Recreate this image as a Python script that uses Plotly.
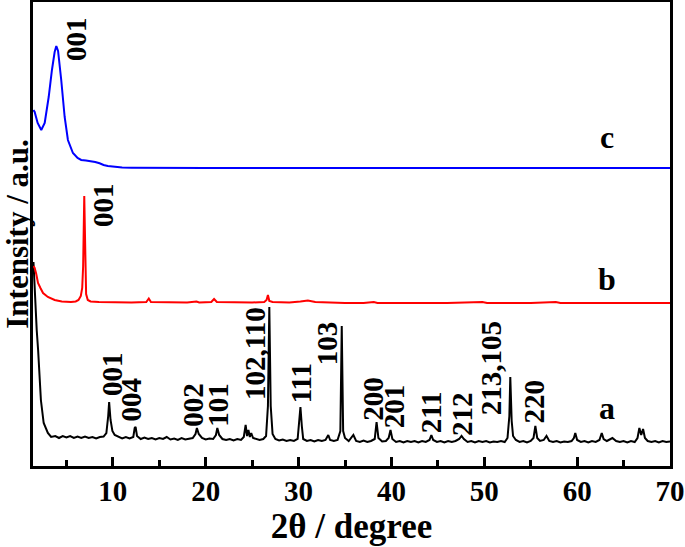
import plotly.graph_objects as go

# sample a (black)
two_theta_a = [1.45, 1.6, 1.8, 1.95, 2.1, 2.25, 2.55, 3.0, 3.35, 3.8, 4.2, 4.6, 5.0, 5.4, 5.8, 6.2, 6.6, 7.0, 7.4, 7.8,
               8.2, 8.6, 9.0, 9.3, 9.5, 9.6, 9.75, 9.95, 10.2, 10.6, 11.0, 11.4, 11.8, 12.2, 12.35, 12.45, 12.6, 13.0,
               13.4, 13.8, 14.2, 14.6, 15.0, 15.4, 15.8, 16.2, 16.6, 17.0, 17.4, 17.8, 18.2, 18.6, 18.9, 19.05, 19.25,
               19.6, 20.0, 20.4, 20.8, 21.1, 21.25, 21.45, 21.8, 22.2, 22.6, 23.0, 23.4, 23.8, 24.1, 24.3, 24.45, 24.6,
               24.75, 24.9, 25.1, 25.4, 25.8, 26.2, 26.5, 26.7, 26.85, 27.0, 27.2, 27.5, 27.9, 28.3, 28.7, 29.1, 29.5,
               29.9, 30.05, 30.2, 30.35, 30.5, 30.9, 31.3, 31.7, 32.1, 32.5, 32.9, 33.2, 33.4, 33.8, 34.2, 34.5, 34.65,
               34.8, 35.0, 35.4, 35.9, 36.2, 36.6, 37.0, 37.4, 37.8, 38.2, 38.4, 38.6, 39.0, 39.4, 39.7, 39.9, 40.1,
               40.5, 40.9, 41.3, 41.7, 42.1, 42.5, 42.9, 43.3, 43.7, 44.1, 44.3, 44.5, 44.9, 45.3, 45.7, 46.1, 46.5,
               46.9, 47.3, 47.55, 47.8, 48.2, 48.6, 49.0, 49.4, 49.8, 50.2, 50.6, 51.0, 51.4, 51.8, 52.2, 52.5, 52.7,
               52.8, 52.95, 53.1, 53.4, 53.8, 54.2, 54.6, 55.0, 55.3, 55.5, 55.7, 56.0, 56.4, 56.7, 57.0, 57.4, 57.8,
               58.2, 58.6, 59.0, 59.4, 59.65, 59.8, 60.0, 60.4, 60.8, 61.2, 61.6, 62.0, 62.4, 62.65, 62.85, 63.2, 63.8,
               64.2, 64.6, 65.0, 65.4, 65.8, 66.2, 66.5, 66.7, 66.9, 67.1, 67.3, 67.6, 68.0, 68.4, 68.8, 69.2, 69.6, 70.0]
intensity_a = [204, 170, 136, 116, 95, 66, 43, 33, 29, 30, 28, 30, 28.5, 30, 28, 29.5, 28, 29.5, 28, 29,
               27.5, 29, 29.5, 33, 50, 64, 46, 35, 31, 29, 27.5, 29, 27.5, 29, 38, 39, 30, 27,
               28.5, 27, 28, 26.5, 28, 27, 29, 26.5, 27.5, 26, 28, 26.5, 27, 28, 32, 38, 32,
               28, 26.5, 27.5, 27, 31, 38, 31, 27, 26, 27, 25.5, 27, 26, 29, 41, 30, 36,
               29, 33, 28, 27, 26, 27, 30, 60, 159, 60, 32, 27, 25.5, 26.5, 25, 26, 25,
               27, 40, 59, 40, 27, 25, 26, 24.5, 26, 25, 26, 31, 26, 25, 26, 35, 140,
               35, 28, 25, 31, 25, 24, 25.5, 24, 25, 27, 44, 28, 24.5, 25, 28, 36, 27,
               24, 25, 23.5, 25, 24, 25, 23.5, 25, 24, 26, 31, 26, 24, 25, 23.5, 25, 24,
               25, 27, 30, 27, 24, 25, 23.5, 25, 24, 25, 23.5, 24.5, 24, 25, 24, 28, 50,
               89, 45, 30, 26, 24, 25, 23.5, 25, 28, 40, 28, 25, 26, 30, 25, 24, 25,
               23.5, 24.5, 24, 25, 28, 33, 26, 24, 25, 23.5, 25, 24, 26, 33, 27, 25, 28,
               25, 24, 25, 23.5, 25, 24, 28, 38, 31, 37, 28, 25, 24, 25, 23.5, 25, 24, 24.5]

# sample b (red)
two_theta_b = [1.45, 1.58, 1.75, 1.94, 2.2, 2.48, 3.0, 3.73, 4.5, 5.49, 6.0, 6.3, 6.55, 6.7, 6.8, 6.88, 6.92, 6.98,
               7.05, 7.12, 7.3, 7.6, 8.5, 10.0, 12.0, 13.6, 13.87, 14.1, 16.0, 18.0, 19.0, 19.3, 20.6, 20.9, 21.2,
               23.0, 25.0, 26.3, 26.55, 26.7, 26.85, 27.2, 29.0, 30.2, 31.0, 31.8, 33.0, 35.0, 37.0, 38.1, 38.5,
               41.0, 44.0, 46.0, 49.8, 50.3, 53.0, 55.0, 57.7, 58.2, 60.0, 63.0, 66.0, 70.0]
intensity_b = [200, 198, 192, 183, 178, 173, 169, 166, 164.5, 164, 164.5, 166, 170, 178, 200, 250, 270, 240,
               190, 172, 166, 164.5, 164, 163.5, 163.5, 164, 167.5, 164, 163.5, 163.5, 164.5, 163.5, 164, 167, 164,
               163.5, 163.5, 164, 166, 171, 165, 164, 163.5, 164.5, 165.5, 164, 163.5, 163, 163, 164, 163,
               163, 163, 163, 164, 163, 163, 163, 164, 163, 163, 163, 163, 163]

# sample c (blue)
two_theta_c = [1.45, 1.58, 1.9, 2.29, 2.66, 3.09, 3.44, 3.73, 3.91, 4.1, 4.44, 4.81, 5.16, 5.7, 6.2, 6.59, 7.1,
               7.67, 8.1, 8.57, 9.0, 9.46, 10.19, 11.0, 12.0, 15.0, 20.0, 30.0, 40.0, 50.0, 60.0, 70.0]
intensity_c = [356, 354, 343, 336, 343, 369, 396, 414, 420, 415, 386, 349, 326, 313, 308, 306, 305.5,
               305, 304, 302.7, 301, 300, 299.3, 298.5, 298.3, 298, 298, 298, 298, 298, 298, 298]

peak_labels_a = ["001", "004", "002", "101", "102,110", "111", "103", "200", "201", "211", "212", "213,105", "220"]

fig = go.Figure()
fig.add_trace(go.Scatter(x=two_theta_a, y=intensity_a, mode="lines", line=dict(color="black", width=2)))
fig.add_trace(go.Scatter(x=two_theta_b, y=intensity_b, mode="lines", line=dict(color="#ff0000", width=2)))
fig.add_trace(go.Scatter(x=two_theta_c, y=intensity_c, mode="lines", line=dict(color="#0000ff", width=2)))

serif = "Liberation Serif, Times New Roman, serif"
lab_font = dict(family=serif, size=29, color="black", weight="bold")

# label positions (x in degrees, y in intensity units)
pos_a = [(9.9, 92), (12.0, 67), (18.6, 61), (21.3, 61), (25.3, 113), (30.3, 83), (33.1, 123),
         (38.0, 67), (40.3, 60), (44.3, 54), (47.6, 52), (50.75, 98), (55.4, 65)]
for lab, (px, py) in zip(peak_labels_a, pos_a):
    fig.add_annotation(x=px, y=py, text=lab, textangle=-90, showarrow=False, font=lab_font)
fig.add_annotation(x=8.93, y=261, text="001", textangle=-90, showarrow=False, font=lab_font)
fig.add_annotation(x=6.02, y=427, text="001", textangle=-90, showarrow=False, font=lab_font)

for name, yy in [("a", 58), ("b", 187), ("c", 329)]:
    fig.add_annotation(x=63.2, y=yy, text=name, showarrow=False,
                       font=dict(family=serif, size=32, color="black", weight="bold"))

fig.update_layout(
    width=685, height=547,
    margin=dict(l=33, r=15, t=2, b=81),
    plot_bgcolor="white", paper_bgcolor="white",
    showlegend=False,
    xaxis=dict(
        range=[1.4, 70], showgrid=False, zeroline=False, automargin=False,
        showline=True, linecolor="black", linewidth=3, mirror=True,
        tickmode="linear", tick0=10, dtick=10,
        ticks="inside", ticklen=9, tickwidth=2.5, tickcolor="black",
        minor=dict(tick0=5, dtick=10, ticks="inside", ticklen=6, tickwidth=2.5, tickcolor="black"),
        tickfont=dict(family=serif, size=29, color="black", weight="bold"),
        ticklabelstandoff=-3,
        title=dict(text="2θ / degree", font=dict(family=serif, size=35, color="black", weight="bold"),
                   standoff=2),
    ),
    yaxis=dict(
        range=[0, 464], showgrid=False, zeroline=False, showticklabels=False, automargin=False,
        showline=True, linecolor="black", linewidth=3, mirror=True, ticks="",
        title=dict(text="Intensity / a.u.", font=dict(family=serif, size=31, color="black", weight="bold"),
                   standoff=0),
    ),
)

# the page body has a default 8px margin; remove it so the figure sits at the window corner
fig.write_html("out.html", config={"displayModeBar": False},
               post_script="document.body.style.margin='0';")
